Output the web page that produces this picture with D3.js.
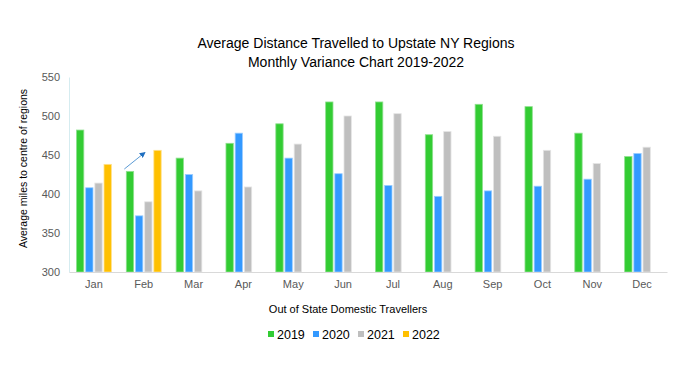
<!DOCTYPE html>
<html>
<head>
<meta charset="utf-8">
<script src="https://cdn.jsdelivr.net/npm/d3@7"></script>
<style>
  body { margin: 0; background: #fff; }
  svg { font-family: "Liberation Sans", Arial, sans-serif; }
</style>
</head>
<body>
<div id="chart"></div>
<script>
const months = ["Jan", "Feb", "Mar", "Apr", "May", "Jun", "Jul", "Aug", "Sep", "Oct", "Nov", "Dec"];
const years = ["2019", "2020", "2021", "2022"];
const v2019 = [482, 429, 446, 465, 490, 518, 518, 476, 515, 512, 478, 448];
const v2020 = [408, 372, 425, 478, 446, 426, 411, 397, 404, 410, 419, 452];
const v2021 = [414, 390, 404, 409, 464, 500, 503, 480, 474, 456, 439, 460];
const v2022 = [438, 456, null, null, null, null, null, null, null, null, null, null];
const yTicks = [300, 350, 400, 450, 500, 550];

const colors = { "2019": "#33cc33", "2020": "#3399ff", "2021": "#bfbfbf", "2022": "#ffc000" };
const strokes = { "2019": "#8fe08f", "2020": "#9ccdff", "2021": "#e4e4e4", "2022": "#ffe08a" };

const width = 700, height = 376;
const margin = { top: 77, right: 33, bottom: 104, left: 69 };

const svg = d3.select("#chart").append("svg")
  .attr("width", width)
  .attr("height", height);

const series = { "2019": v2019, "2020": v2020, "2021": v2021, "2022": v2022 };
const data = months.map((m, i) => ({ month: m, values: years.map(y => ({ year: y, value: series[y][i] })) }));

const x0 = d3.scaleBand()
  .domain(months)
  .range([margin.left, width - margin.right])
  .paddingInner(0.3)
  .paddingOuter(0.15);

const x1 = d3.scaleBand()
  .domain(years)
  .range([0, x0.bandwidth()])
  .paddingInner(0.2)
  .paddingOuter(0);

const y = d3.scaleLinear()
  .domain([300, 550])
  .range([height - margin.bottom, margin.top]);

// title
const title = svg.append("text")
  .attr("x", 356)
  .attr("text-anchor", "middle")
  .attr("font-size", "14px")
  .attr("fill", "#000");
title.append("tspan").attr("x", 356).attr("y", 48).text("Average Distance Travelled to Upstate NY Regions");
title.append("tspan").attr("x", 356).attr("y", 67).text("Monthly Variance Chart 2019-2022");

// y axis
const yAxis = svg.append("g")
  .attr("transform", `translate(${margin.left},0)`)
  .call(d3.axisLeft(y).tickValues(yTicks).tickSize(0).tickPadding(9));
yAxis.select(".domain").attr("stroke", "#d5ecf0");
yAxis.selectAll("text").attr("font-size", "11px").attr("fill", "#595959").attr("font-family", "Liberation Sans, Arial, sans-serif");

// bars
const groups = svg.append("g")
  .selectAll("g")
  .data(data)
  .join("g")
  .attr("transform", d => `translate(${x0(d.month)},0)`);

groups.selectAll("rect")
  .data(d => d.values.filter(v => v.value != null))
  .join("rect")
  .attr("x", d => x1(d.year))
  .attr("y", d => y(d.value))
  .attr("width", x1.bandwidth())
  .attr("height", d => y(300) - y(d.value))
  .attr("fill", d => colors[d.year])
  .attr("stroke", d => strokes[d.year])
  .attr("stroke-width", 0.8);

// x axis
const xAxis = svg.append("g")
  .attr("transform", `translate(0,${height - margin.bottom})`)
  .call(d3.axisBottom(x0).tickSize(0).tickPadding(8));
xAxis.select(".domain").attr("stroke", "#d9d9d9").attr("stroke-width", 1.2);
xAxis.selectAll("text").attr("font-size", "11px").attr("fill", "#595959").attr("font-family", "Liberation Sans, Arial, sans-serif");

// y axis title
svg.append("text")
  .attr("transform", `translate(27,${(y(300) + y(550)) / 2 - 6}) rotate(-90)`)
  .attr("text-anchor", "middle")
  .attr("font-size", "10.5px")
  .attr("fill", "#000")
  .text("Average miles to centre of regions");

// x axis title
svg.append("text")
  .attr("x", 348)
  .attr("y", 313)
  .attr("text-anchor", "middle")
  .attr("font-size", "11px")
  .attr("fill", "#000")
  .text("Out of State Domestic Travellers");

// arrow annotation in Feb
const defs = svg.append("defs");
defs.append("marker")
  .attr("id", "arrowhead")
  .attr("viewBox", "0 0 10 10")
  .attr("refX", 8)
  .attr("refY", 5)
  .attr("markerWidth", 6)
  .attr("markerHeight", 6)
  .attr("orient", "auto")
  .append("path")
  .attr("d", "M0,0 L10,5 L0,10 Z")
  .attr("fill", "#1f6fc0");

svg.append("line")
  .attr("x1", x0("Feb") - 2)
  .attr("y1", y(432))
  .attr("x2", x0("Feb") + x1("2021"))
  .attr("y2", y(453))
  .attr("stroke", "#5b9bd5")
  .attr("stroke-width", 1)
  .attr("marker-end", "url(#arrowhead)");

// legend
const legend = svg.append("g")
  .attr("transform", "translate(268,334)");

years.forEach((yr, i) => {
  const lg = legend.append("g").attr("transform", `translate(${i * 45},0)`);
  lg.append("rect")
    .attr("x", 0)
    .attr("y", -3)
    .attr("width", 6)
    .attr("height", 6)
    .attr("fill", colors[yr]);
  lg.append("text")
    .attr("x", 9)
    .attr("y", 4.5)
    .attr("font-size", "12.5px")
    .attr("fill", "#000")
    .text(yr);
});
</script>
</body>
</html>
